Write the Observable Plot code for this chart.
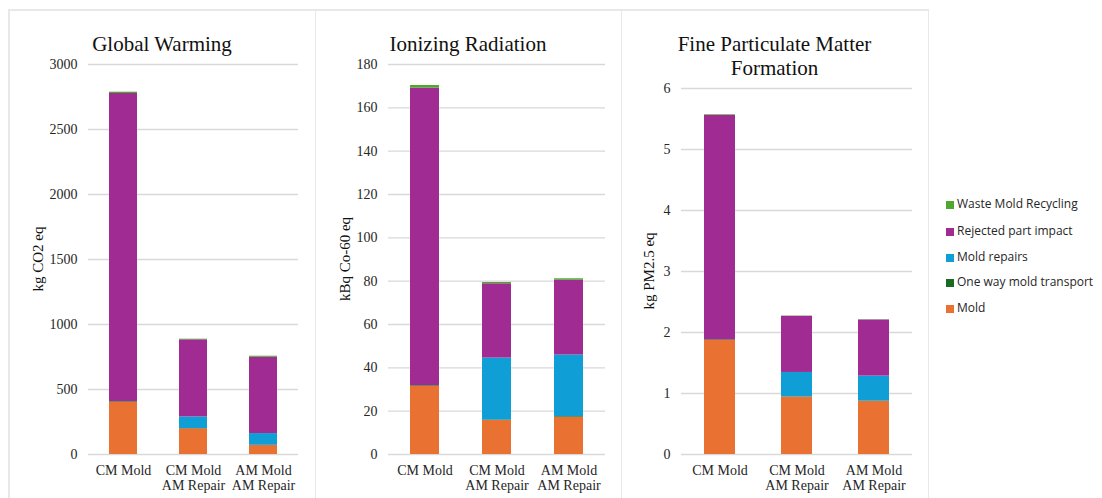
<!DOCTYPE html>
<html>
<head>
<meta charset="utf-8">
<script src="https://cdn.jsdelivr.net/npm/d3@7"></script>
<script src="https://cdn.jsdelivr.net/npm/@observablehq/plot@0.6"></script>
<style>
  html, body { margin: 0; padding: 0; background: #fff; }
  #root { position: relative; width: 1102px; height: 498px; overflow: hidden; background: #fff; }
  .frame { position: absolute; background: #e8e8e8; }
  .panel { position: absolute; top: 10px; height: 488px; }
  .title { position: absolute; top: 22px; left: 0; right: 0; text-align: center;
           font-family: "Liberation Serif", serif; font-size: 21px; line-height: 24px; color: #111; }
  .ylab { position: absolute; transform: translate(-50%, -50%) rotate(-90deg); white-space: nowrap;
          font-family: "Liberation Serif", serif; font-size: 15px; color: #111; }
  .legend { position: absolute; left: 946px; top: 0; font-family: "Open Sans", sans-serif; font-size: 12px; color: #262626; }
  .legend .row { position: absolute; left: 0; height: 18px; line-height: 18px; white-space: nowrap; }
  .legend .sw { display: inline-block; width: 8px; height: 8px; margin-right: 3px; vertical-align: -0.5px; }
</style>
</head>
<body>
<div id="root"></div>
<script>
// ---------- data ----------
const categories = ["CM Mold", "CM Mold\nAM Repair", "AM Mold\nAM Repair"];
const seriesNames = ["Mold", "One way mold transport", "Mold repairs", "Rejected part impact", "Waste Mold Recycling"];
const seriesColors = ["#E97132", "#196B24", "#0F9ED5", "#A02B93", "#4EA72E"];
const legendOrder = ["Waste Mold Recycling", "Rejected part impact", "Mold repairs", "One way mold transport", "Mold"];

// Global Warming (kg CO2 eq)
const gwMold = [402, 198, 69];
const gwTransport = [5, 2, 2];
const gwRepairs = [0, 89, 90];
const gwRejected = [2370, 593, 587];
const gwRecycling = [10, 5, 8];
const gwTicks = [0, 500, 1000, 1500, 2000, 2500, 3000];

// Ionizing Radiation (kBq Co-60 eq)
const irMold = [31.5, 15.7, 17.2];
const irTransport = [0.3, 0.2, 0.3];
const irRepairs = [0, 28.6, 28.4];
const irRejected = [137.3, 34.3, 34.5];
const irRecycling = [1.2, 0.6, 0.7];
const irTicks = [0, 20, 40, 60, 80, 100, 120, 140, 160, 180];

// Fine Particulate Matter Formation (kg PM2.5 eq)
const pmMold = [1.87, 0.94, 0.87];
const pmTransport = [0.01, 0.005, 0.005];
const pmRepairs = [0, 0.40, 0.41];
const pmRejected = [3.68, 0.92, 0.92];
const pmRecycling = [0.01, 0.005, 0.005];
const pmTicks = [0, 1, 2, 3, 4, 5, 6];

function toRows(seriesArrays) {
  const rows = [];
  seriesNames.forEach((s, si) => {
    categories.forEach((c, ci) => rows.push({category: c, series: s, value: seriesArrays[si][ci]}));
  });
  return rows;
}

const panels = [
  {title: "Global Warming", ylabel: "kg CO2 eq", left: 9, width: 306, mL: 79, mR: 17, mT: 54, ylabX: 29,
   rows: toRows([gwMold, gwTransport, gwRepairs, gwRejected, gwRecycling]), ticks: gwTicks},
  {title: "Ionizing Radiation", ylabel: "kBq Co-60 eq", left: 315, width: 306, mL: 73, mR: 16, mT: 54, ylabX: 30,
   rows: toRows([irMold, irTransport, irRepairs, irRejected, irRecycling]), ticks: irTicks},
  {title: "Fine Particulate Matter<br>Formation", ylabel: "kg PM2.5 eq", left: 621, width: 307, mL: 60, mR: 16, mT: 78, ylabX: 28,
   rows: toRows([pmMold, pmTransport, pmRepairs, pmRejected, pmRecycling]), ticks: pmTicks}
];

const root = document.getElementById("root");

// frame lines
function line(l, t, w, h) {
  const d = document.createElement("div");
  d.className = "frame";
  Object.assign(d.style, {left: l + "px", top: t + "px", width: w + "px", height: h + "px"});
  root.appendChild(d);
}
line(8, 9, 921, 1.5);
line(8, 9, 1.5, 490);
line(314.5, 9, 1.5, 490);
line(620.5, 9, 1.5, 490);
line(927.5, 9, 1.5, 490);

const H = 488;
panels.forEach(p => {
  const div = document.createElement("div");
  div.className = "panel";
  div.style.left = p.left + "px";
  div.style.width = p.width + "px";

  const chart = Plot.plot({
    width: p.width,
    height: H,
    marginLeft: p.mL,
    marginRight: p.mR,
    marginTop: p.mT,
    marginBottom: 44,
    style: {fontFamily: "'Liberation Serif', serif", fontSize: "14px", color: "#262626", background: "transparent", overflow: "visible"},
    x: {domain: categories, paddingInner: 0.6, paddingOuter: 0.3, label: null},
    y: {domain: [0, p.ticks[p.ticks.length - 1]], label: null},
    color: {domain: seriesNames, range: seriesColors},
    marks: [
      Plot.gridY(p.ticks, {stroke: "#d9d9d9", strokeOpacity: 1, strokeWidth: 1.4}),
      Plot.barY(p.rows, {x: "category", y: "value", fill: "series"}),
      Plot.axisY({ticks: p.ticks, tickFormat: d => String(d), tickSize: 0, tickPadding: 11, label: null, fontSize: 14}),
      Plot.axisX({tickSize: 0, tickPadding: 10, label: null, fontSize: 14, lineHeight: 1.08})
    ]
  });
  chart.style.position = "absolute";
  chart.style.left = "0px";
  chart.style.top = "0px";
  div.appendChild(chart);

  const t = document.createElement("div");
  t.className = "title";
  t.innerHTML = p.title;
  div.appendChild(t);

  const yl = document.createElement("div");
  yl.className = "ylab";
  yl.textContent = p.ylabel;
  yl.style.left = p.ylabX + "px";
  yl.style.top = ((p.mT + (H - 44)) / 2) + "px";
  div.appendChild(yl);

  root.appendChild(div);
});

// legend
const legend = document.createElement("div");
legend.className = "legend";
const rowCenters = [204, 231, 257, 282, 308];
legendOrder.forEach((name, i) => {
  const r = document.createElement("div");
  r.className = "row";
  r.style.top = (rowCenters[i] - 9) + "px";
  const sw = document.createElement("span");
  sw.className = "sw";
  sw.style.background = seriesColors[seriesNames.indexOf(name)];
  r.appendChild(sw);
  r.appendChild(document.createTextNode(name));
  legend.appendChild(r);
});
root.appendChild(legend);
</script>
</body>
</html>
